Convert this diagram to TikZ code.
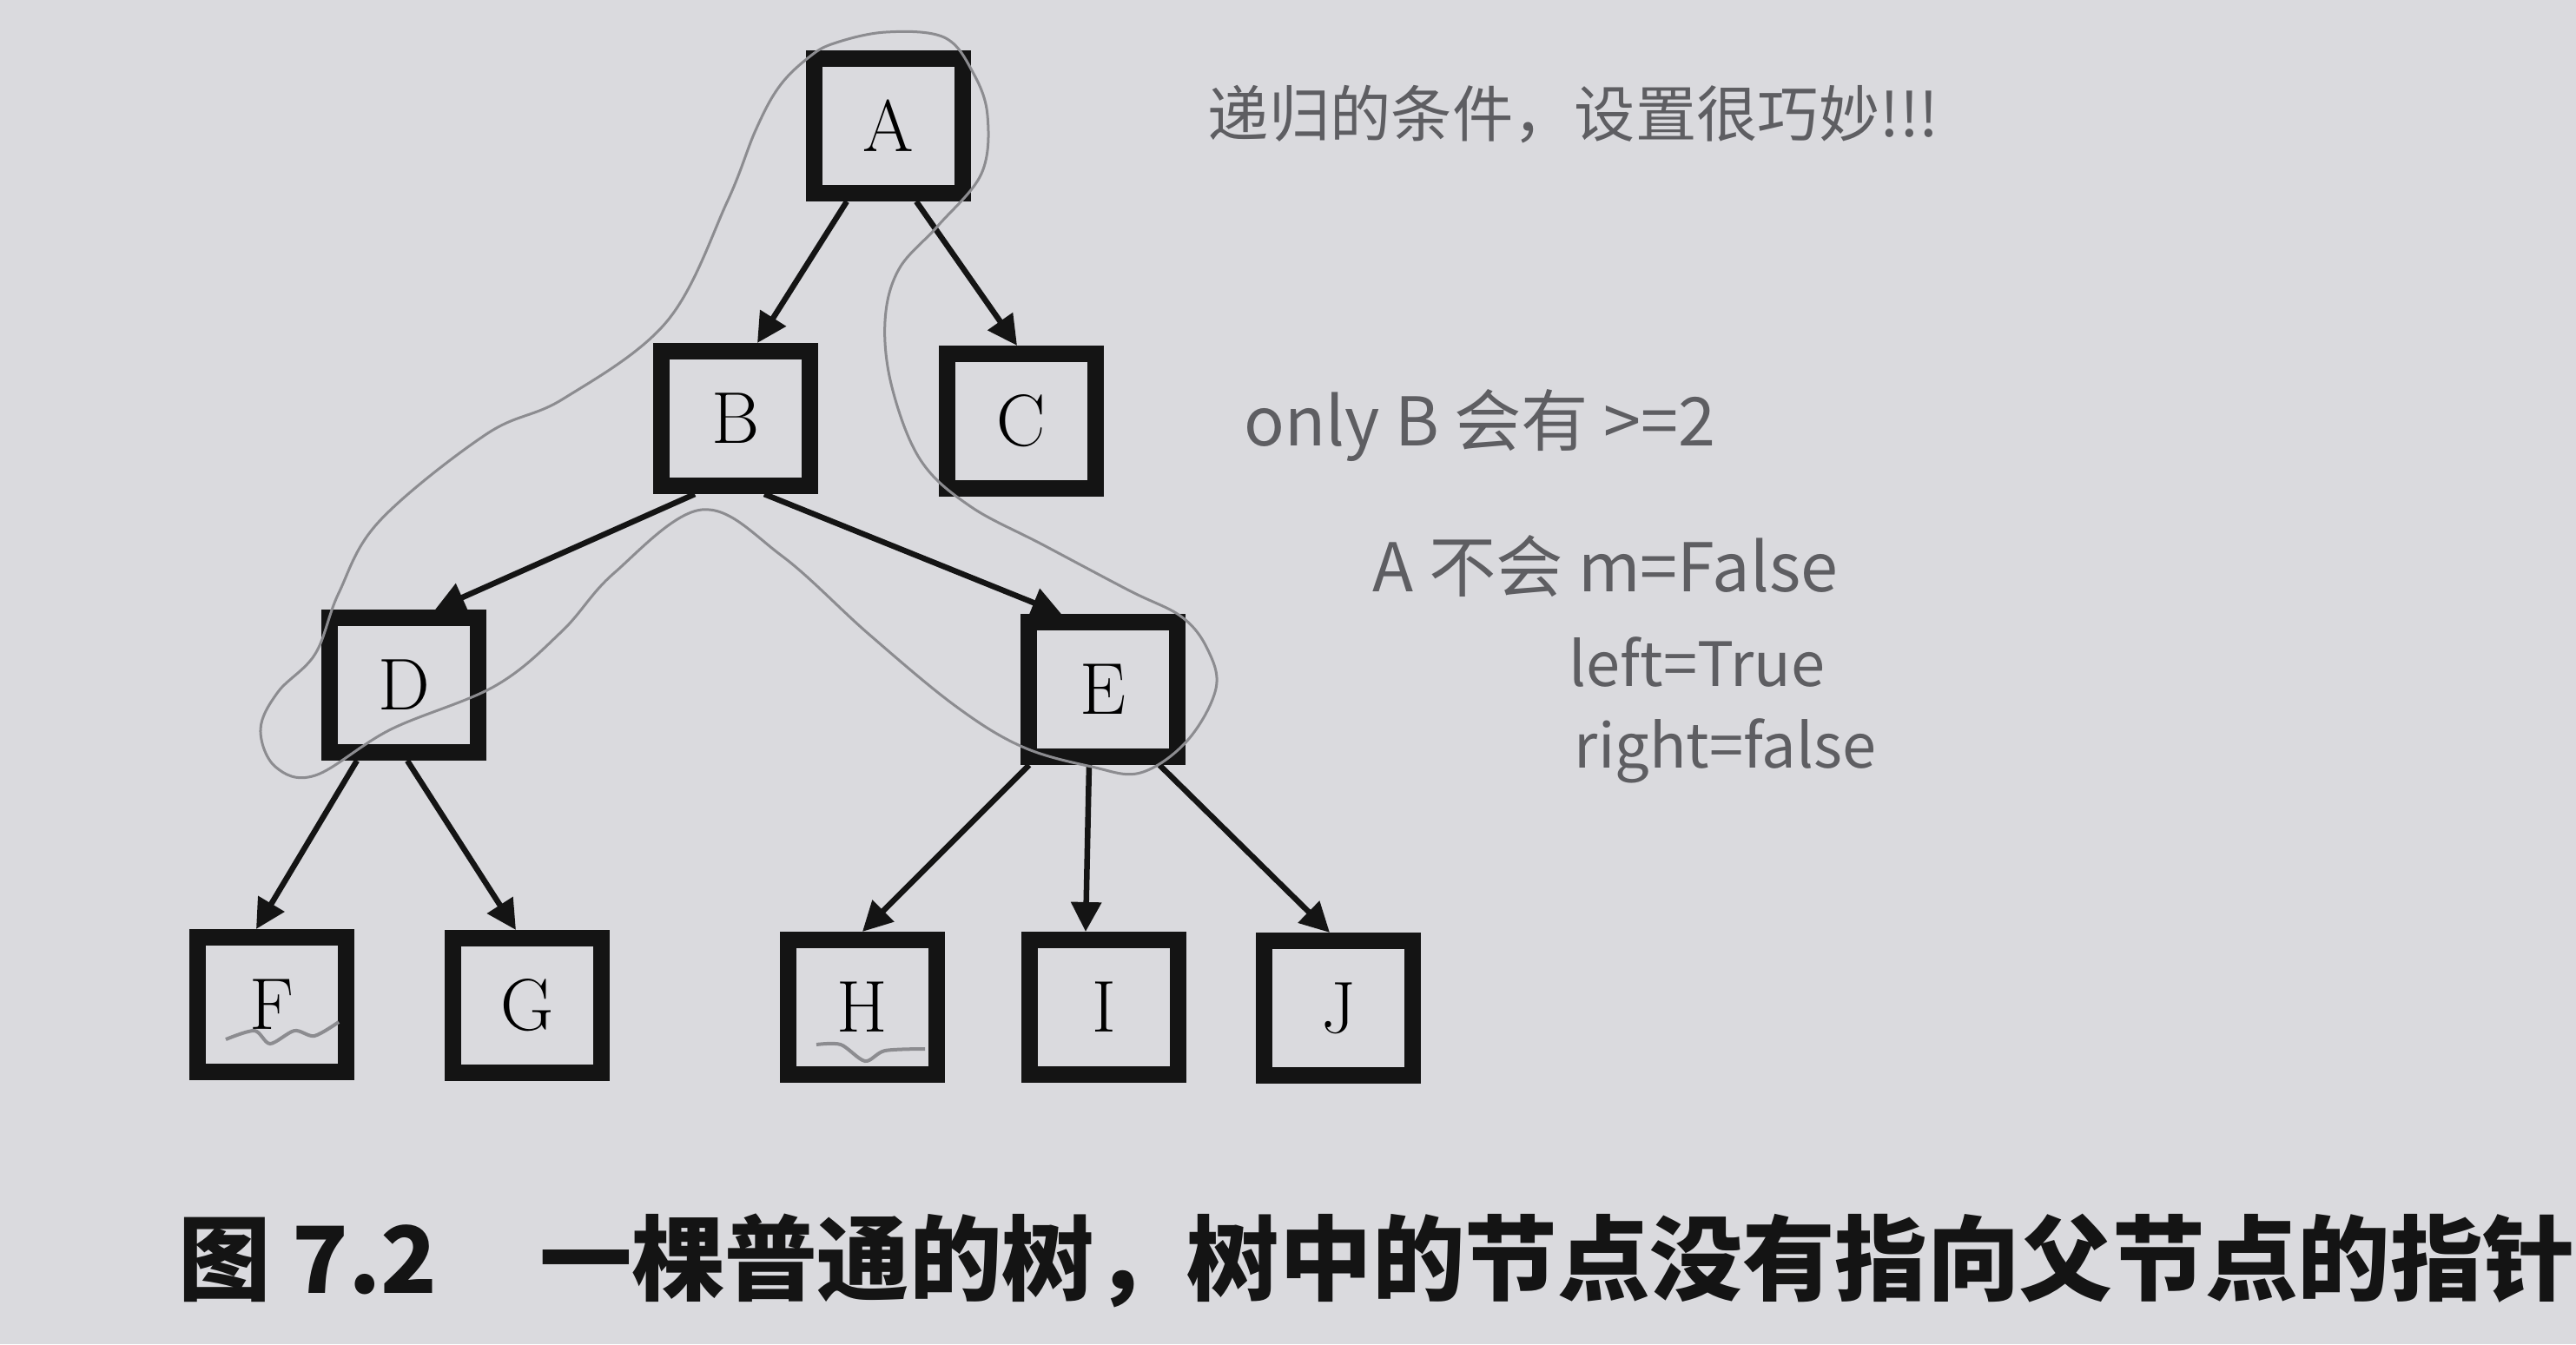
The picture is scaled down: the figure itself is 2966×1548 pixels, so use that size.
\documentclass[tikz,border=0pt]{standalone}
\usepackage{fontspec}
\newfontfamily\cjk{Noto Sans CJK SC}
\usetikzlibrary{arrows.meta}
\definecolor{paper}{HTML}{DADADE}
\definecolor{ink}{HTML}{141414}
\definecolor{lead}{HTML}{8C8C90}
\definecolor{hand}{HTML}{5E5E62}

\begin{document}
\begin{tikzpicture}[x=0.01cm,y=-0.01cm,
    treenode/.style={draw=ink,line width=0.19cm,minimum width=1.71cm,minimum height=1.55cm,
      inner sep=0pt,font=\fontsize{24}{28}\selectfont},
    link/.style={draw=ink,line width=0.065cm,-{Triangle[length=0.34cm,width=0.34cm]}},
    pencil/.style={draw=lead,line width=0.03cm},
    note/.style={anchor=west,inner sep=0pt,text=hand,font=\cjk\fontsize{22}{26}\selectfont}]
      % page, pixel units of the photo
      \fill[paper] (0,0) rectangle (2966,1548);
      \useasboundingbox (0,0) rectangle (2966,1548);
      % tree nodes
      \node[treenode] (A) at (1023,145) {A};
      \node[treenode] (B) at (847,482) {B};
      \node[treenode] (C) at (1176,485) {C};
      \node[treenode] (D) at (465,789) {D};
      \node[treenode] (E) at (1270,794) {E};
      \node[treenode] (F) at (313,1157) {F};
      \node[treenode] (G) at (607,1158) {G};
      \node[treenode] (H) at (993,1160) {H};
      \node[treenode] (I) at (1271,1160) {I};
      \node[treenode] (J) at (1541,1161) {J};
      % links parent -> child
      \draw[link] ([xshift=-0.48cm]A.south) -- ([xshift=0.25cm]B.north);
      \draw[link] ([xshift=0.32cm]A.south) -- ([xshift=-0.05cm]C.north);
      \draw[link] ([xshift=-0.47cm]B.south) -- ([xshift=0.36cm]D.north);
      \draw[link] ([xshift=0.33cm]B.south) -- ([xshift=-0.48cm]E.north);
      \draw[link] ([xshift=-0.54cm]D.south) -- ([xshift=-0.18cm]F.north);
      \draw[link] ([xshift=0.04cm]D.south) -- ([xshift=-0.13cm]G.north);
      \draw[link] ([xshift=-0.85cm]E.south) -- (H.north);
      \draw[link] ([xshift=-0.16cm]E.south) -- ([xshift=-0.21cm]I.north);
      \draw[link] ([xshift=0.65cm]E.south) -- ([xshift=-0.10cm]J.north);
      % pencil loop round A, B, D, E
      \draw[pencil] plot[smooth cycle,tension=0.6] coordinates {
        (960,50) (1020,37) (1087,43) (1120,83) (1137,133) (1130,200) (1080,260)
        (1035,310) (1019,370) (1027,446) (1060,530) (1117,583) (1200,627)
        (1300,680) (1360,710) (1390,747) (1400,793) (1367,853) (1313,890)
        (1257,883) (1177,860) (1100,813) (1000,730) (900,640) (808,587)
        (707,660) (647,727) (570,790) (450,840) (363,893) (317,883) (300,840)
        (320,797) (363,753) (390,683) (437,600) (560,500) (649,459) (768,370)
        (837,233) (870,150) (897,100) (930,67)};
      % wavy marks under F and H
      \draw[pencil,line width=0.04cm] plot[smooth] coordinates {
        (260,1197) (293,1187) (311,1202) (339,1187) (362,1193) (390,1177)};
      \draw[pencil,line width=0.04cm] plot[smooth] coordinates {
        (940,1203) (968,1203) (996,1222) (1019,1210) (1065,1208)};
      % handwritten notes
      \node[note,font=\cjk\fontsize{20}{24}\selectfont] (n1) at (1390,132) {递归的条件，设置很巧妙!!!};
      \node[note] (n2) at (1432,490) {only B 会有 >=2};
      \node[note] (n3) at (1580,652) {A 不会 m=False};
      \node[note,font=\cjk\fontsize{20}{24}\selectfont] (n4) at (1806,762) {left=True};
      \node[note,font=\cjk\fontsize{20}{24}\selectfont] (n5) at (1812,865) {right=false};
      % caption
      \node[anchor=west,inner sep=0pt,text=ink,font=\cjk\bfseries\fontsize{30.3}{34}\selectfont]
        (cap) at (205,1452) {图 7.2\hspace{1.1em}一棵普通的树，树中的节点没有指向父节点的指针};
    \end{tikzpicture}
\end{document}
